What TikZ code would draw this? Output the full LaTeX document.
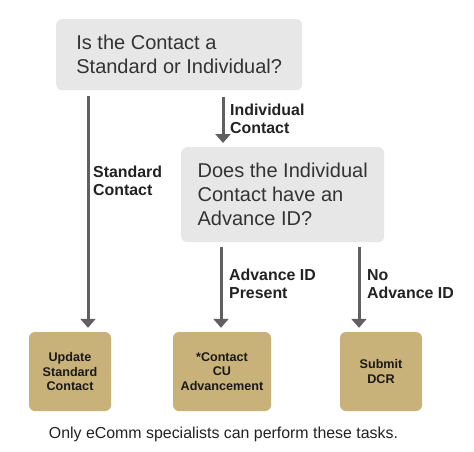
\documentclass[tikz,border=0pt]{standalone}
\usepackage{fontspec}
\setmainfont{Liberation Sans}
\usetikzlibrary{arrows.meta}
\definecolor{boxgray}{RGB}{231,231,231}
\definecolor{tanbox}{RGB}{201,178,122}
\definecolor{arrgray}{RGB}{96,96,96}
\definecolor{qtxt}{RGB}{51,51,51}
\definecolor{ltxt}{RGB}{34,34,34}
\begin{document}
\begin{tikzpicture}[x=1pt,y=-1pt,
  qbox/.style={fill=boxgray, rounded corners=6pt, align=left, anchor=north west,
    inner sep=0pt, text=qtxt, font=\fontsize{20}{24}\selectfont},
  abox/.style={fill=tanbox, rounded corners=6pt, align=center, inner sep=0pt,
    minimum width=82pt, minimum height=79pt, text=black!90,
    font=\bfseries\fontsize{12.6}{14.5}\selectfont},
  lbl/.style={anchor=west, align=left, inner sep=0pt, text=ltxt,
    font=\bfseries\fontsize{15.9}{18.3}\selectfont},
  arr/.style={draw=arrgray, line width=3pt, -{Triangle[width=15pt,length=9pt]}}]
\useasboundingbox[fill=white] (0,0) rectangle (474,451);

\node[qbox, minimum width=246pt, minimum height=71pt] (q1) at (56,19)
  {Is the Contact a\\Standard or Individual?};
\node[qbox, minimum width=203pt, minimum height=95pt] (q2) at (181,147)
  {Does the Individual\\Contact have an\\Advance ID?};

\node[abox] (aA) at (70,371.5) {Update\\Standard\\Contact};
\node[abox, minimum width=98pt] (aB) at (222,371.5) {*Contact\\CU\\Advancement};
\node[abox] (aC) at (381,371.5) {Submit\\DCR};

\path ([xshift=32pt]q1.south west) coordinate (s1);
\path ([xshift=167pt]q1.south west) coordinate (s2);
\path ([xshift=40pt]q2.south west) coordinate (s3);
\path ([xshift=178pt]q2.south west) coordinate (s4);

\draw[arr, shorten <=6pt, shorten >=4pt] (s1) -- (s1 |- aA.north);
\draw[arr, shorten <=7pt, shorten >=4pt] (s2) -- (s2 |- q2.north);
\draw[arr, shorten <=4.5pt, shorten >=4pt] (s3) -- (s3 |- aB.north);
\draw[arr, shorten <=4.5pt, shorten >=4pt] (s4) -- (s4 |- aC.north);

\node[lbl] (l1) at (93,181) {Standard\\Contact};
\node[lbl] (l2) at (230,119) {Individual\\Contact};
\node[lbl] (l3) at (229,284) {Advance ID\\Present};
\node[lbl] (l4) at (367,284) {No\\Advance ID};

\node[inner sep=0pt, text=ltxt, font=\fontsize{15.9}{19}\selectfont] (foot) at (223.5,434)
  {Only eComm specialists can perform these tasks.};
\end{tikzpicture}
\end{document}
